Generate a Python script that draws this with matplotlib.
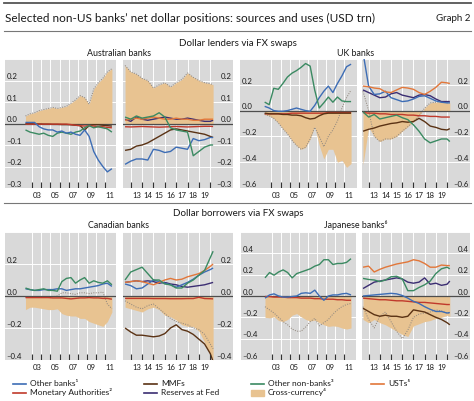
import numpy as np
import matplotlib
matplotlib.use("Agg")
import matplotlib.pyplot as plt
from matplotlib.lines import Line2D
from matplotlib.patches import Rectangle
import matplotlib.transforms as mtransforms

plt.rcParams['font.family'] = ['Lato', 'DejaVu Sans']

# ---------------- data ----------------
LEFT_DATES = np.arange(2002.25, 2012.0, 0.5)          # 20 points
RIGHT_DATES = np.array([2012.0, 2012.5, 2013.0, 2013.5, 2014.0, 2014.5, 2015.0, 2015.5,
                        2016.0, 2016.5, 2017.0, 2017.5, 2018.0, 2018.5, 2019.0, 2019.5, 2019.75])

# Australian banks
AU_L_XCCY = [0.035,0.045,0.05,0.06,0.065,0.07,0.075,0.07,0.075,0.08,0.095,0.11,0.13,0.12,0.09,0.16,0.19,0.21,0.24,0.255]
AU_L_OTHER_BANKS = [0.005,0.005,0.005,-0.015,-0.025,-0.03,-0.03,-0.04,-0.035,-0.045,-0.04,-0.05,-0.055,-0.03,-0.06,-0.13,-0.17,-0.2,-0.225,-0.21]
AU_L_NONBANKS = [-0.03,-0.04,-0.045,-0.05,-0.045,-0.055,-0.06,-0.045,-0.04,-0.045,-0.05,-0.04,-0.035,-0.02,-0.01,-0.02,-0.015,-0.02,-0.025,-0.04]
AU_L_MON_AUTH = [-0.003,-0.003,-0.003,-0.003,-0.003,-0.003,-0.003,-0.003,-0.003,-0.003,-0.005,-0.008,-0.01,-0.012,-0.01,-0.012,-0.015,-0.015,-0.018,-0.02]
AU_L_MMF = [0.0,0.0,-0.002,-0.002,-0.003,-0.003,-0.004,-0.004,-0.005,-0.005,-0.006,-0.008,-0.01,-0.03,-0.01,-0.006,-0.006,-0.008,-0.01,-0.012]
AU_L_DOTTED = AU_L_XCCY

AU_R_XCCY = [0.27,0.24,0.23,0.21,0.2,0.165,0.18,0.19,0.17,0.19,0.205,0.235,0.215,0.2,0.19,0.185,0.18]
AU_R_OTHER_BANKS = [-0.19,-0.175,-0.165,-0.165,-0.17,-0.12,-0.125,-0.135,-0.13,-0.11,-0.115,-0.12,-0.07,-0.08,-0.075,-0.065,-0.065]
AU_R_NONBANKS = [0.03,0.02,0.035,0.025,0.03,0.035,0.05,0.03,-0.02,-0.03,-0.035,-0.04,-0.15,-0.13,-0.11,-0.1,-0.1]
AU_R_MMF = [-0.125,-0.12,-0.105,-0.1,-0.09,-0.075,-0.06,-0.045,-0.03,-0.025,-0.03,-0.035,-0.04,-0.045,-0.05,-0.06,-0.065]
AU_R_MON_AUTH = [-0.015,-0.016,-0.015,-0.014,-0.015,-0.016,-0.017,-0.016,-0.015,-0.014,-0.015,-0.016,-0.015,-0.014,-0.013,-0.013,-0.014]
AU_R_USTS = [0.015,0.02,0.025,0.02,0.025,0.03,0.025,0.02,0.02,0.025,0.02,0.02,0.015,0.015,0.02,0.02,0.02]
AU_R_RESERVES = [0.02,0.01,0.03,0.02,0.015,0.02,0.025,0.03,0.025,0.02,0.02,0.025,0.02,0.015,0.01,0.01,0.015]
AU_R_DOTTED = AU_R_XCCY

# UK banks
UK_L_NONBANKS = [0.066,0.046,0.173,0.165,0.21,0.26,0.29,0.31,0.335,0.365,0.345,0.16,0.02,0.06,0.105,0.065,0.105,0.075,0.07,0.07]
UK_L_OTHER_BANKS = [0.033,0.02,0.0,-0.005,-0.005,0.0,0.01,0.02,0.01,0.0,-0.005,0.04,0.1,0.15,0.19,0.14,0.21,0.27,0.34,0.36]
UK_L_XCCY = [-0.03,-0.04,-0.06,-0.095,-0.14,-0.18,-0.23,-0.27,-0.3,-0.285,-0.22,-0.125,-0.27,-0.375,-0.3,-0.3,-0.4,-0.385,-0.44,-0.41]
UK_L_DOTTED = [-0.03,-0.04,-0.06,-0.095,-0.14,-0.18,-0.23,-0.27,-0.3,-0.285,-0.22,-0.13,-0.2,-0.28,-0.2,-0.15,-0.08,0.02,0.1,0.16]
UK_L_MMF = [-0.02,-0.025,-0.025,-0.025,-0.03,-0.03,-0.035,-0.035,-0.04,-0.055,-0.065,-0.06,-0.04,-0.025,-0.02,-0.02,-0.02,-0.02,-0.02,-0.02]
UK_L_MON_AUTH = [-0.025,-0.025,-0.025,-0.025,-0.025,-0.025,-0.02,-0.02,-0.02,-0.02,-0.02,-0.02,-0.02,-0.02,-0.015,-0.015,-0.015,-0.015,-0.015,-0.015]

UK_R_OTHER_BANKS = [0.45,0.19,0.125,0.13,0.15,0.1,0.085,0.07,0.075,0.09,0.11,0.115,0.095,0.075,0.065,0.06,0.06]
UK_R_USTS = [0.19,0.185,0.175,0.17,0.145,0.14,0.16,0.18,0.175,0.165,0.14,0.125,0.15,0.18,0.22,0.215,0.21]
UK_R_RESERVES = [0.16,0.14,0.12,0.1,0.105,0.13,0.14,0.12,0.11,0.1,0.12,0.125,0.115,0.09,0.07,0.07,0.07]
UK_R_NONBANKS = [-0.01,-0.05,-0.03,-0.065,-0.055,-0.045,-0.035,-0.055,-0.07,-0.11,-0.16,-0.22,-0.25,-0.235,-0.22,-0.22,-0.24]
UK_R_MMF = [-0.16,-0.145,-0.135,-0.12,-0.11,-0.1,-0.095,-0.085,-0.09,-0.085,-0.06,-0.085,-0.12,-0.13,-0.145,-0.15,-0.14]
UK_R_MON_AUTH = [-0.015,-0.02,-0.02,-0.025,-0.025,-0.03,-0.03,-0.03,-0.035,-0.035,-0.04,-0.04,-0.045,-0.045,-0.05,-0.05,-0.05]
UK_R_XCCY = [-0.42,-0.13,-0.2,-0.24,-0.22,-0.22,-0.2,-0.16,-0.125,-0.085,-0.04,0.02,0.06,0.065,0.07,0.06,0.06]
UK_R_DOTTED = [0.15,0.0,-0.2,-0.24,-0.22,-0.22,-0.2,-0.16,-0.125,-0.085,-0.04,0.02,0.06,0.065,0.07,0.06,0.06]

# Canadian banks
CA_L_OTHER_BANKS = [0.045,0.04,0.035,0.035,0.04,0.04,0.04,0.045,0.045,0.035,0.04,0.045,0.045,0.05,0.055,0.06,0.065,0.075,0.08,0.06]
CA_L_NONBANKS = [0.05,0.04,0.035,0.04,0.045,0.035,0.035,0.03,0.09,0.11,0.115,0.08,0.1,0.115,0.08,0.095,0.085,0.08,0.095,0.07]
CA_L_MON_AUTH = [-0.01,-0.01,-0.01,-0.01,-0.01,-0.01,-0.012,-0.012,-0.012,-0.015,-0.018,-0.015,-0.012,-0.012,-0.01,-0.012,-0.012,-0.015,-0.015,-0.02]
CA_L_XCCY = [-0.085,-0.07,-0.07,-0.075,-0.08,-0.085,-0.085,-0.08,-0.11,-0.12,-0.125,-0.125,-0.14,-0.14,-0.16,-0.17,-0.18,-0.19,-0.16,-0.1]
CA_L_DOTTED = [-0.005,-0.005,-0.005,-0.005,-0.005,-0.005,-0.005,0.0,0.02,0.02,0.015,0.01,0.02,0.02,0.015,0.02,0.02,0.025,-0.05,-0.08]

CA_R_NONBANKS = [0.1,0.15,0.165,0.18,0.14,0.1,0.1,0.075,0.07,0.05,0.05,0.08,0.1,0.13,0.16,0.24,0.28]
CA_R_USTS = [0.085,0.09,0.095,0.09,0.08,0.07,0.085,0.1,0.11,0.1,0.105,0.12,0.13,0.14,0.16,0.185,0.2]
CA_R_OTHER_BANKS = [0.075,0.065,0.045,0.05,0.075,0.1,0.09,0.08,0.07,0.055,0.07,0.085,0.105,0.13,0.15,0.165,0.175]
CA_R_RESERVES = [0.085,0.09,0.095,0.09,0.095,0.09,0.08,0.085,0.075,0.07,0.06,0.055,0.06,0.065,0.07,0.08,0.085]
CA_R_MON_AUTH = [-0.015,-0.015,-0.015,-0.015,-0.015,-0.016,-0.016,-0.016,-0.017,-0.017,-0.017,-0.016,-0.016,-0.008,-0.016,-0.017,-0.018]
CA_R_MMF = [-0.2,-0.225,-0.245,-0.245,-0.25,-0.255,-0.25,-0.235,-0.2,-0.18,-0.21,-0.22,-0.24,-0.27,-0.3,-0.36,-0.41]
CA_R_XCCY = [-0.07,-0.08,-0.09,-0.1,-0.08,-0.07,-0.085,-0.12,-0.13,-0.15,-0.18,-0.19,-0.19,-0.22,-0.29,-0.37,-0.4]
CA_R_DOTTED = [-0.03,-0.05,-0.07,-0.08,-0.06,-0.05,-0.08,-0.11,-0.14,-0.16,-0.17,-0.18,-0.2,-0.21,-0.24,-0.3,-0.33]

# Japanese banks
JP_L_NONBANKS = [0.17,0.22,0.195,0.225,0.245,0.22,0.17,0.21,0.225,0.24,0.255,0.28,0.295,0.34,0.34,0.295,0.305,0.305,0.315,0.35]
JP_L_OTHER_BANKS = [-0.02,0.01,0.02,0.0,-0.01,-0.01,-0.005,0.0,0.025,0.03,0.025,0.055,0.0,-0.04,0.0,0.01,0.01,0.02,0.025,0.01]
JP_L_MON_AUTH = [-0.005,-0.005,-0.01,-0.01,-0.01,-0.015,-0.015,-0.015,-0.02,-0.02,-0.02,-0.025,-0.025,-0.03,-0.03,-0.03,-0.035,-0.035,-0.04,-0.04]
JP_L_XCCY = [-0.2,-0.205,-0.195,-0.23,-0.24,-0.22,-0.18,-0.165,-0.195,-0.22,-0.235,-0.225,-0.25,-0.27,-0.285,-0.28,-0.285,-0.3,-0.31,-0.3]
JP_L_DOTTED = [-0.1,-0.13,-0.16,-0.2,-0.24,-0.27,-0.31,-0.33,-0.33,-0.29,-0.24,-0.21,-0.28,-0.25,-0.22,-0.17,-0.13,-0.1,-0.08,-0.07]

JP_R_USTS = [0.27,0.28,0.225,0.25,0.27,0.285,0.3,0.31,0.32,0.34,0.33,0.305,0.27,0.27,0.29,0.285,0.285]
JP_R_NONBANKS = [0.165,0.155,0.15,0.135,0.15,0.18,0.185,0.16,0.05,0.05,0.08,0.105,0.14,0.21,0.255,0.27,0.255]
JP_R_RESERVES = [0.07,0.1,0.13,0.14,0.15,0.16,0.17,0.16,0.13,0.12,0.13,0.17,0.11,0.12,0.1,0.11,0.14]
JP_R_OTHER_BANKS = [0.0,0.005,0.01,0.015,0.02,0.025,0.02,0.005,-0.02,-0.05,-0.07,-0.1,-0.125,-0.145,-0.145,-0.16,-0.155]
JP_R_MMF = [-0.115,-0.145,-0.175,-0.19,-0.18,-0.19,-0.19,-0.2,-0.19,-0.13,-0.14,-0.15,-0.175,-0.2,-0.22,-0.25,-0.27]
JP_R_MON_AUTH = [-0.02,-0.025,-0.03,-0.035,-0.035,-0.04,-0.045,-0.045,-0.05,-0.055,-0.06,-0.06,-0.065,-0.07,-0.075,-0.08,-0.08]
JP_R_XCCY = [-0.22,-0.25,-0.22,-0.25,-0.27,-0.3,-0.33,-0.36,-0.38,-0.28,-0.26,-0.24,-0.23,-0.21,-0.2,-0.18,-0.19]
JP_R_DOTTED = [-0.1,-0.22,-0.3,-0.19,-0.15,-0.24,-0.33,-0.4,-0.32,-0.2,-0.17,-0.16,-0.15,-0.13,-0.14,-0.16,-0.16]

LEFT_TICK_YEARS = [2003, 2004, 2005, 2006, 2007, 2008, 2009, 2010, 2011]
LEFT_LABEL_POS = [2003.5, 2005.5, 2007.5, 2009.5, 2011.5]
LEFT_LABELS = ["03", "05", "07", "09", "11"]
RIGHT_TICK_YEARS = [2012.5, 2013.5, 2014.5, 2015.5, 2016.5, 2017.5, 2018.5, 2019.5]
RIGHT_LABEL_POS = [2013.0, 2014.0, 2015.0, 2016.0, 2017.0, 2018.0, 2019.0]
RIGHT_LABELS = ["13", "14", "15", "16", "17", "18", "19"]

LEGEND_LABELS = ["Other banks\u00b9", "Monetary Authorities\u00b2", "MMFs", "Reserves at Fed",
                 "Other non-banks\u00b3", "Cross-currency\u2074", "USTs\u2075"]

# ---------------- style ----------------
GRAY = '#d9d9d9'
C_BANKS = '#3d6db5'
C_MON = '#c0392b'
C_MMF = '#5a3214'
C_RES = '#3b2d72'
C_NONB = '#3b8a62'
C_UST = '#e2773a'
C_XCCY = '#e8c391'
C_DOT = '#948a80'
TXT = '#1a1a1a'
FS_TICK = 5.6

W, H = 474, 401
fig = plt.figure(figsize=(W / 100, H / 100), dpi=100)


def fbox(x0, y0, x1, y1):
    return [x0 / W, 1 - y1 / H, (x1 - x0) / W, (y1 - y0) / H]


def fmt(v):
    s = f"{abs(v):.1f}"
    return ("\u2013" + s) if v < -1e-9 else s


def panel(box, xlim, ylim, yticks, ylabels, side, tick_years, label_pos, labels,
          dates, xccy, dotted, lines):
    ax = fig.add_axes(box)
    ax.set_facecolor(GRAY)
    ax.set_xlim(*xlim)
    ax.set_ylim(*ylim)
    for s in ax.spines.values():
        s.set_visible(False)
    ax.set_yticks([])
    ax.set_xticks(label_pos, labels)
    ax.tick_params(axis='x', length=0, pad=3.2, labelsize=FS_TICK, colors=TXT)
    for yv in yticks:
        ax.axhline(yv, color='white', lw=0.7, zorder=0.5)
    for gx in tick_years:
        ax.axvline(gx, color='white', lw=0.7, zorder=0.5)
    ax.vlines(tick_years, 0, 0.045, transform=ax.get_xaxis_transform(),
              color='#333333', lw=0.8, zorder=6)
    ax.fill_between(dates, 0, xccy, color=C_XCCY, lw=0, zorder=1)
    ax.plot(dates, dotted, color=C_DOT, lw=0.75, ls=(0, (1, 1.3)), zorder=2)
    ax.axhline(0, color='#4d4d4d', lw=0.9, zorder=3)
    for vals, col in lines:
        ax.plot(dates, vals, color=col, lw=1.0, zorder=4, solid_capstyle='butt')
    trans = mtransforms.offset_copy(ax.get_yaxis_transform(), fig=fig, y=0.9, units='points')
    bb = ax.get_position()
    wpx = bb.width * W
    for yv in ylabels:
        if side == 'left':
            ax.text(1.5 / wpx, yv, fmt(yv), transform=trans, ha='left', va='baseline',
                    fontsize=FS_TICK, color=TXT, zorder=7)
        else:
            ax.text(1 - 1.5 / wpx, yv, fmt(yv), transform=trans, ha='right', va='baseline',
                    fontsize=FS_TICK, color=TXT, zorder=7)
    return ax


charts = [
    dict(top=59, bot=188, L=5, G1=116, G2=123, R=233,
         xl=(2000.0, 2012.2), xr=(2011.82, 2021.5), ylim=(-0.3, 0.3),
         yt=[-0.3, -0.2, -0.1, 0.0, 0.1, 0.2, 0.3], yl=[-0.3, -0.2, -0.1, 0.0, 0.1, 0.2],
         left=(AU_L_XCCY, AU_L_DOTTED, [(AU_L_MMF, C_MMF), (AU_L_MON_AUTH, C_MON),
                                         (AU_L_NONBANKS, C_NONB), (AU_L_OTHER_BANKS, C_BANKS)]),
         right=(AU_R_XCCY, AU_R_DOTTED, [(AU_R_RESERVES, C_RES), (AU_R_USTS, C_UST),
                                          (AU_R_MON_AUTH, C_MON), (AU_R_MMF, C_MMF),
                                          (AU_R_OTHER_BANKS, C_BANKS), (AU_R_NONBANKS, C_NONB)])),
    dict(top=59, bot=188, L=240, G1=357, G2=362, R=470,
         xl=(1999.54, 2012.4), xr=(2011.91, 2021.55), ylim=(-0.6, 0.4),
         yt=[-0.6, -0.4, -0.2, 0.0, 0.2, 0.4], yl=[-0.6, -0.4, -0.2, 0.0, 0.2],
         left=(UK_L_XCCY, UK_L_DOTTED, [(UK_L_MON_AUTH, C_MON), (UK_L_MMF, C_MMF),
                                         (UK_L_OTHER_BANKS, C_BANKS), (UK_L_NONBANKS, C_NONB)]),
         right=(UK_R_XCCY, UK_R_DOTTED, [(UK_R_MON_AUTH, C_MON), (UK_R_MMF, C_MMF),
                                          (UK_R_NONBANKS, C_NONB), (UK_R_RESERVES, C_RES),
                                          (UK_R_OTHER_BANKS, C_BANKS), (UK_R_USTS, C_UST)])),
    dict(top=232, bot=360, L=5, G1=116, G2=123, R=233,
         xl=(2000.0, 2012.2), xr=(2011.82, 2021.5), ylim=(-0.4, 0.4),
         yt=[-0.4, -0.2, 0.0, 0.2, 0.4], yl=[-0.4, -0.2, 0.0, 0.2],
         left=(CA_L_XCCY, CA_L_DOTTED, [(CA_L_MON_AUTH, C_MON), (CA_L_OTHER_BANKS, C_BANKS),
                                         (CA_L_NONBANKS, C_NONB)]),
         right=(CA_R_XCCY, CA_R_DOTTED, [(CA_R_MON_AUTH, C_MON), (CA_R_MMF, C_MMF),
                                          (CA_R_RESERVES, C_RES), (CA_R_OTHER_BANKS, C_BANKS),
                                          (CA_R_USTS, C_UST), (CA_R_NONBANKS, C_NONB)])),
    dict(top=232, bot=360, L=241, G1=356, G2=362, R=470,
         xl=(1999.6, 2012.3), xr=(2011.91, 2021.55), ylim=(-0.6, 0.6),
         yt=[-0.6, -0.4, -0.2, 0.0, 0.2, 0.4, 0.6], yl=[-0.6, -0.4, -0.2, 0.0, 0.2, 0.4],
         left=(JP_L_XCCY, JP_L_DOTTED, [(JP_L_MON_AUTH, C_MON), (JP_L_OTHER_BANKS, C_BANKS),
                                         (JP_L_NONBANKS, C_NONB)]),
         right=(JP_R_XCCY, JP_R_DOTTED, [(JP_R_MON_AUTH, C_MON), (JP_R_MMF, C_MMF),
                                          (JP_R_OTHER_BANKS, C_BANKS), (JP_R_RESERVES, C_RES),
                                          (JP_R_NONBANKS, C_NONB), (JP_R_USTS, C_UST)])),
]

for c in charts:
    panel(fbox(c['L'], c['top'], c['G1'], c['bot']), c['xl'], c['ylim'], c['yt'], c['yl'], 'left',
          LEFT_TICK_YEARS, LEFT_LABEL_POS, LEFT_LABELS, LEFT_DATES, *c['left'])
    panel(fbox(c['G2'], c['top'], c['R'], c['bot']), c['xr'], c['ylim'], c['yt'], c['yl'], 'right',
          RIGHT_TICK_YEARS, RIGHT_LABEL_POS, RIGHT_LABELS, RIGHT_DATES, *c['right'])


def hline(y, x0, x1, lw, col):
    fig.add_artist(Line2D([x0 / W, x1 / W], [1 - y / H, 1 - y / H], color=col, lw=lw,
                          transform=fig.transFigure))


hline(2.7, 4, 471, 1.3, '#555555')
hline(30.7, 4, 471, 0.8, '#777777')
hline(203.0, 4, 471, 0.8, '#777777')

fig.text(5 / W, 1 - 18.5 / H, "Selected non-US banks\u2019 net dollar positions: sources and uses (USD trn)",
         ha='left', va='center', fontsize=8.5, color=TXT)
fig.text(470 / W, 1 - 18.5 / H, "Graph 2", ha='right', va='center', fontsize=7.0, color=TXT)
fig.text(238 / W, 1 - 43.5 / H, "Dollar lenders via FX swaps", ha='center', va='center', fontsize=7.0, color=TXT)
fig.text(119 / W, 1 - 53.0 / H, "Australian banks", ha='center', va='center', fontsize=6.4, color=TXT)
fig.text(356 / W, 1 - 53.0 / H, "UK banks", ha='center', va='center', fontsize=6.4, color=TXT)
fig.text(238 / W, 1 - 214 / H, "Dollar borrowers via FX swaps", ha='center', va='center', fontsize=7.0, color=TXT)
fig.text(119 / W, 1 - 225 / H, "Canadian banks", ha='center', va='center', fontsize=6.4, color=TXT)
fig.text(356 / W, 1 - 225 / H, "Japanese banks\u2076", ha='center', va='center', fontsize=6.4, color=TXT)

leg_items = [
    (13, 383.5, 'line', C_BANKS, LEGEND_LABELS[0]),
    (13, 392.5, 'line', C_MON, LEGEND_LABELS[1]),
    (144, 383.5, 'line', C_MMF, LEGEND_LABELS[2]),
    (144, 392.5, 'line', C_RES, LEGEND_LABELS[3]),
    (251, 383.5, 'line', C_NONB, LEGEND_LABELS[4]),
    (251, 392.5, 'patch', C_XCCY, LEGEND_LABELS[5]),
    (371, 383.5, 'line', C_UST, LEGEND_LABELS[6]),
]
for x, y, kind, col, lab in leg_items:
    if kind == 'line':
        fig.add_artist(Line2D([x / W, (x + 13) / W], [1 - y / H, 1 - y / H], color=col, lw=1.2,
                              transform=fig.transFigure))
    else:
        fig.add_artist(Rectangle((x / W, 1 - (y + 3) / H), 13 / W, 6 / H, color=col,
                                 transform=fig.transFigure))
    fig.text((x + 17) / W, 1 - y / H, lab, ha='left', va='center', fontsize=6.0, color=TXT)

fig.savefig("out.png", dpi=100)
